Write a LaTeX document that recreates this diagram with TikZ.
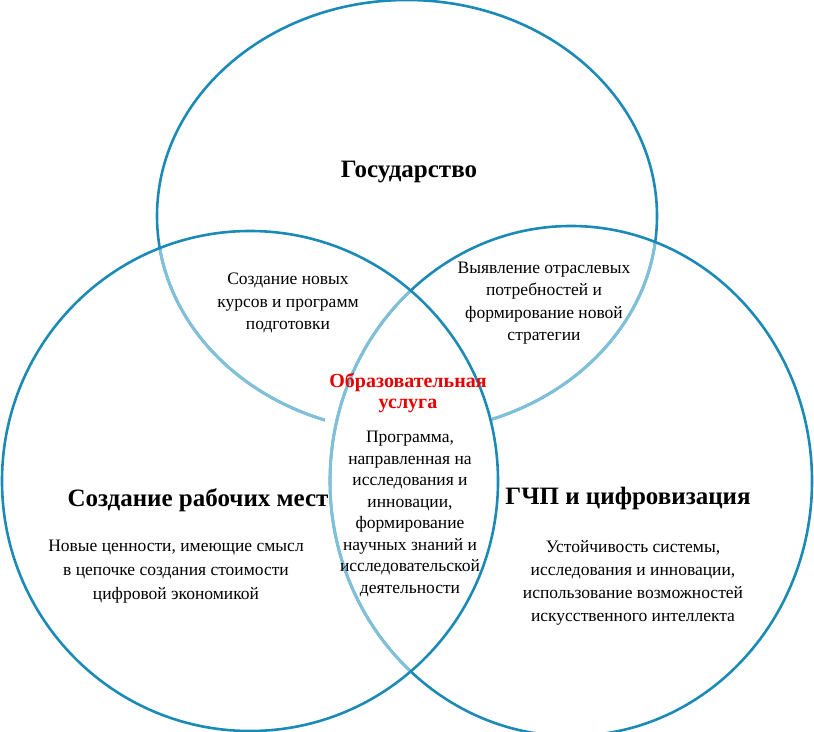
\documentclass[tikz,border=0pt]{standalone}
\usepackage{fontspec}
\setmainfont{Liberation Serif}
\definecolor{ring}{RGB}{28,138,182}
\definecolor{ringlight}{RGB}{128,192,216}
\definecolor{redtxt}{RGB}{232,0,0}
\begin{document}
\begin{tikzpicture}[x=1bp,y=-1bp,
  ringline/.style={draw=ring,line width=2.6bp},
  ringfaint/.style={draw=ringlight,line width=3bp},
  bodytext/.style={align=center,font=\fontsize{17.5bp}{22.5bp}\selectfont,inner sep=0pt},
  headtext/.style={font=\fontsize{25bp}{28bp}\selectfont\bfseries,inner sep=0pt},
  redlabel/.style={align=center,text=redtxt,font=\fontsize{20bp}{21bp}\selectfont\bfseries,inner sep=0pt}]
\useasboundingbox (0,0) rectangle (814,732);
\clip (0,0) rectangle (814,732);
% top ellipse
\draw[ringline] (407,216) ellipse [x radius=250bp, y radius=216bp];
\begin{scope}
  \clip (571,481) ellipse [x radius=241bp, y radius=255bp];
  \draw[ringfaint] (407,216) ellipse [x radius=250bp, y radius=216bp];
\end{scope}
\begin{scope}
  \clip (250,481) ellipse [x radius=248bp, y radius=250bp];
  \draw[ringfaint] (407,216) ellipse [x radius=250bp, y radius=216bp];
\end{scope}
% white box behind the red label hides the top arc
\fill[white] (325,366) rectangle (492,440);
% right circle
\draw[ringline] (571,481) ellipse [x radius=241bp, y radius=255bp];
\begin{scope}
  \clip (250,481) ellipse [x radius=248bp, y radius=250bp];
  \draw[ringfaint] (571,481) ellipse [x radius=241bp, y radius=255bp];
\end{scope}
% left circle
\draw[ringline] (250,481) ellipse [x radius=248bp, y radius=250bp];
% texts
\node[redlabel] (edu) at (408,393) {Образовательная\\услуга};
\node[headtext] (gov) at (409,172) {Государство};
\node[headtext] (jobs) at (198,500) {Создание рабочих мест};
\node[headtext] (ppp) at (628,498) {ГЧП и цифровизация};
\node[bodytext] (courses) at (288,303) {Создание новых\\курсов и программ\\подготовки};
\node[bodytext] (needs) at (544,303) {Выявление отраслевых\\потребностей и\\формирование новой\\стратегии};
\node[bodytext,font=\fontsize{17.5bp}{21.5bp}\selectfont] (prog) at (410,514) {Программа,\\направленная на\\исследования и\\инновации,\\формирование\\научных знаний и\\исследовательской\\деятельности};
\node[bodytext,font=\fontsize{17.5bp}{24bp}\selectfont] (values) at (176,572) {Новые ценности, имеющие смысл\\в цепочке создания стоимости\\цифровой экономикой};
\node[bodytext,font=\fontsize{17.5bp}{23bp}\selectfont] (ai) at (633,583) {Устойчивость системы,\\исследования и инновации,\\использование возможностей\\искусственного интеллекта};
\end{tikzpicture}
\end{document}
